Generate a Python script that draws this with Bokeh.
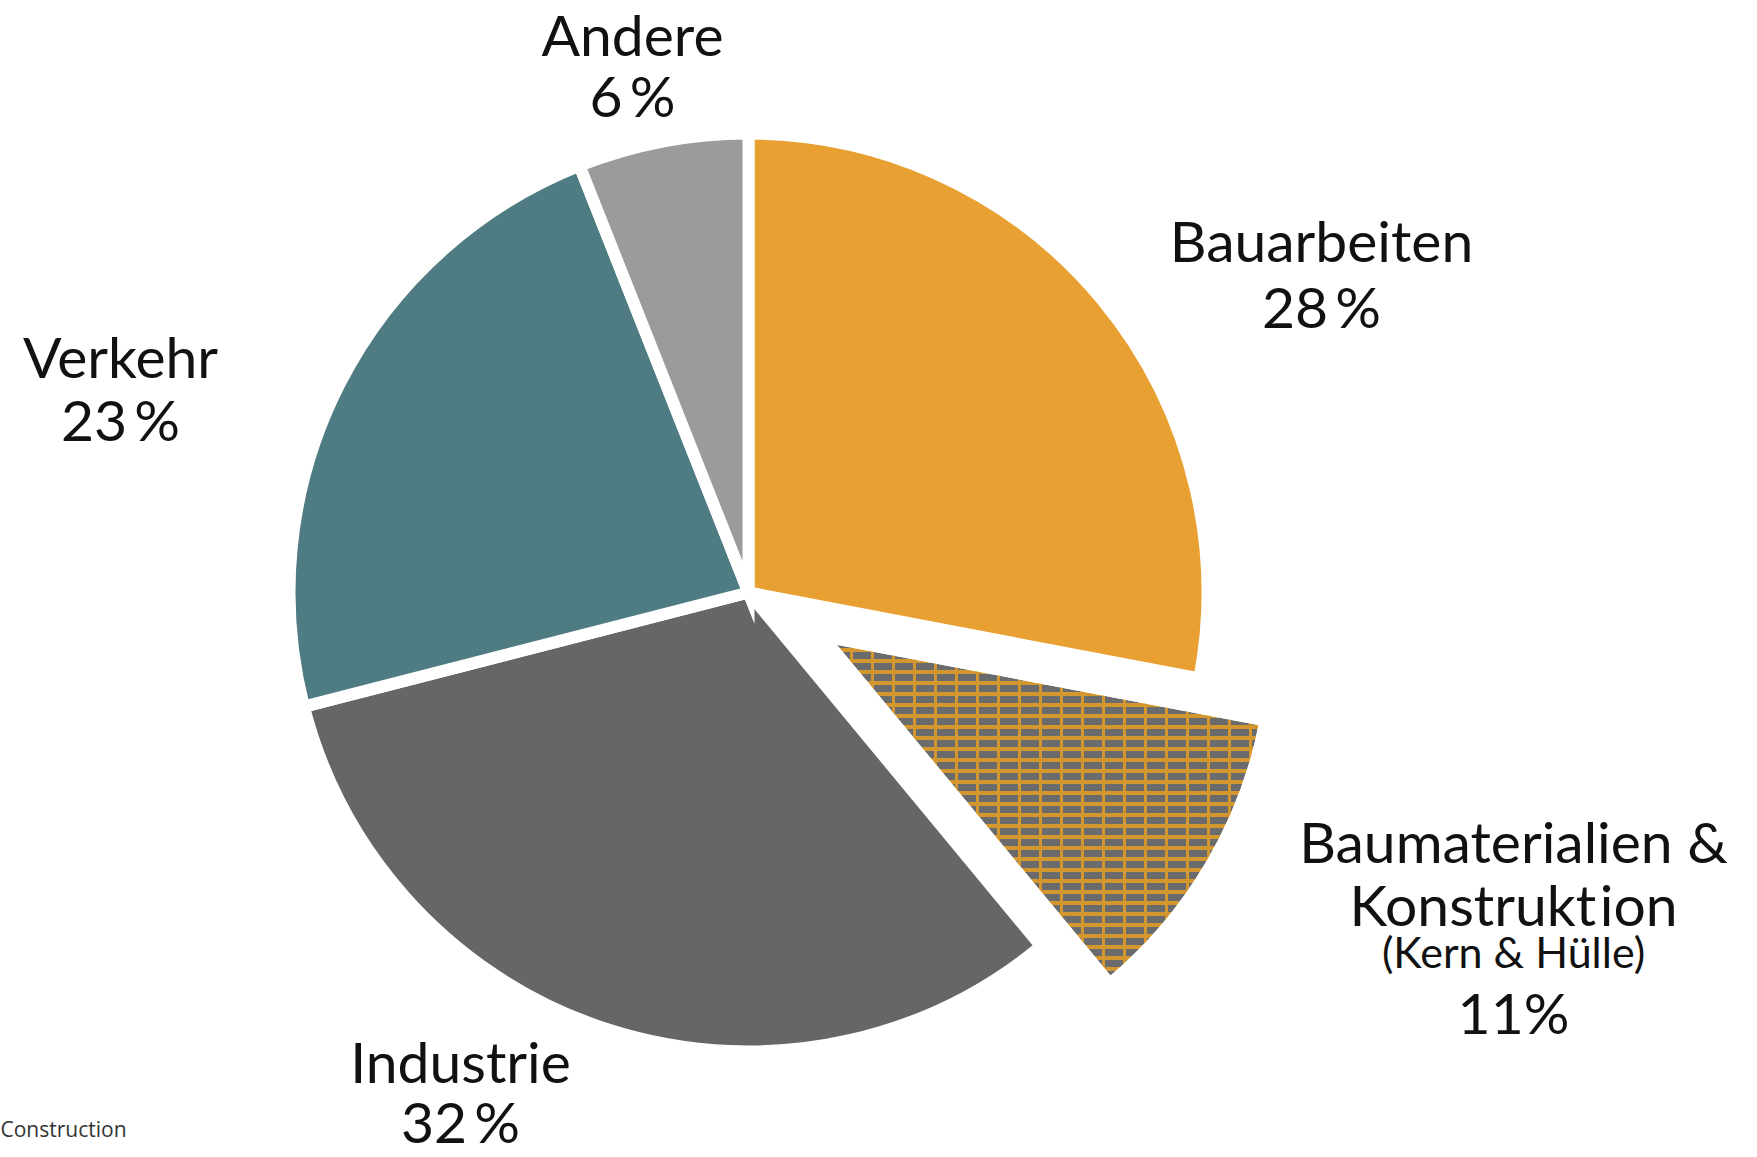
import numpy as np
from bokeh.plotting import figure
from bokeh.models import Range1d, ColumnDataSource
from bokeh.core.properties import value
from bokeh.embed import file_html
from bokeh.resources import INLINE

# ---- data ----
categories = ["Bauarbeiten", "Baumaterialien & Konstruktion", "Industrie", "Verkehr", "Andere"]
shares = [28, 11, 32, 23, 6]
colors = ["#E8A033", "#D4962E", "#666666", "#4F7C82", "#9B9B9B"]
exploded = [False, True, False, False, False]
label_lines = [["Bauarbeiten"], ["Baumaterialien &", "Konstrukt\u200aion", "(Kern & Hülle)"],
               ["Industrie"], ["Verkehr"], ["Andere"]]
source_note = "Construction"

# ---- layout ----
W, H = 1757, 1157
cx, cy = 748, H - 592
R = 459
R_EXP = 452
EXPLODE = 85
GAP = 12
TEXT_SHIFT = 22  # baseline correction for the renderer

frac = np.array(shares, dtype=float) / sum(shares)
cum = np.concatenate([[0.0], np.cumsum(frac)])
start = np.pi / 2 - 2 * np.pi * cum[1:]
end = np.pi / 2 - 2 * np.pi * cum[:-1]
mid = (start + end) / 2

xs, ys, rs = [], [], []
for i in range(len(shares)):
    d = EXPLODE if exploded[i] else 0
    xs.append(cx + d * np.cos(mid[i]))
    ys.append(cy + d * np.sin(mid[i]))
    rs.append(R_EXP if exploded[i] else R)

p = figure(width=W, height=H, output_backend="svg", toolbar_location=None,
           x_range=Range1d(0, W), y_range=Range1d(0, H), min_border=0)
p.axis.visible = False
p.grid.visible = False
p.outline_line_color = None
p.background_fill_color = "white"
p.border_fill_color = "white"

plain = [i for i in range(len(shares)) if not exploded[i]]
src = ColumnDataSource(dict(x=[xs[i] for i in plain], y=[ys[i] for i in plain],
                            r=[rs[i] for i in plain], s=[start[i] for i in plain],
                            e=[end[i] for i in plain], c=[colors[i] for i in plain]))
p.wedge(x="x", y="y", radius="r", start_angle="s", end_angle="e", fill_color="c",
        line_color="white", line_width=GAP, line_join="miter", source=src)

for i in range(len(shares)):
    if exploded[i]:
        p.wedge(x=xs[i], y=ys[i], radius=rs[i], start_angle=start[i], end_angle=end[i],
                fill_color=colors[i], hatch_pattern="horizontal_line", hatch_color="#6A6B6C",
                hatch_scale=11, hatch_weight=7, line_color="white", line_width=GAP,
                line_join="miter")
        p.wedge(x=xs[i], y=ys[i], radius=rs[i], start_angle=start[i], end_angle=end[i],
                fill_alpha=0, hatch_pattern="vertical_line", hatch_color=colors[i],
                hatch_scale=21, hatch_weight=3, line_color="white", line_width=GAP,
                line_join="miter")

# ---- labels (screen positions: center x, baseline y) ----
label_pos = {
    0: [(1321, 261), (1321, 327)],
    1: [(1513, 862), (1513, 925), (1513, 973), (1513, 1033)],
    2: [(460, 1082), (460, 1142)],
    3: [(120, 377), (120, 440)],
    4: [(632, 55), (632, 116)],
}
tx, ty, tt, ts = [], [], [], []
for i in range(len(shares)):
    pct = f"{shares[i]}%" if shares[i] == 11 else f"{shares[i]}\u2009%"
    lines = label_lines[i] + [pct]
    for j, line in enumerate(lines):
        px, py = label_pos[i][j]
        tx.append(px)
        ty.append(H - (py - TEXT_SHIFT))
        tt.append(line)
        ts.append("43px" if line.startswith("(") else "57px")

tsrc = ColumnDataSource(dict(x=tx, y=ty, t=tt, s=ts))
p.text(x="x", y="y", text="t", text_font_size="s", source=tsrc,
       text_font=value("Lato"), text_align="center", text_baseline="alphabetic",
       text_color="#111111")

p.text(x=[0], y=[H - (1150 - TEXT_SHIFT)], text=[source_note], text_font=value("Open Sans"),
       text_font_size="21px", text_align="left", text_baseline="alphabetic",
       text_color="#333333")

open("out.html", "w").write(file_html(p, INLINE))
